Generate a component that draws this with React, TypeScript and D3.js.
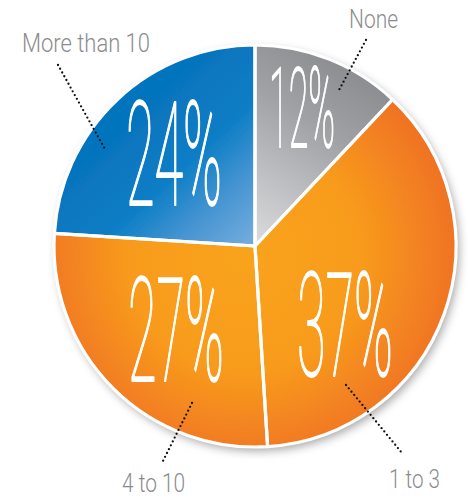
import React from "react";
import * as d3 from "d3";

const categories = ["None", "1 to 3", "4 to 10", "More than 10"];
const shares = [12, 37, 27, 24];
const percentLabels = ["12%", "37%", "27%", "24%"];

const W = 468;
const H = 498;
const CX = 255;
const CY = 246;
const R = 201;

// layout of annotations (not data)
const pctLayout = [
  { x: 269, y: 147, size: 111, w: 66 },
  { x: 297, y: 376, size: 145, w: 96 },
  { x: 128, y: 381, size: 145, w: 96 },
  { x: 126, y: 205, size: 145, w: 96 },
];
const nameLayout = [
  { x: 349, y: 28, w: 49 },
  { x: 389, y: 488, w: 51 },
  { x: 122, y: 492, w: 63 },
  { x: 22, y: 52, w: 128 },
];
const leaders = [
  [366, 40, 338, 92],
  [346, 385, 402, 453],
  [192, 403, 163, 461],
  [58, 65, 106, 151],
];
const fills = ["url(#gGray)", "url(#gOrange)", "url(#gOrange)", "url(#gBlue)"];

export default function App() {
  const pie = d3
    .pie<number>()
    .sort(null)
    .value((d) => d)
    .startAngle(0)
    .endAngle(2 * Math.PI);
  const arcs = pie(shares);
  const arc = d3.arc<d3.PieArcDatum<number>>().innerRadius(0).outerRadius(R);

  return (
    <svg
      width={W}
      height={H}
      style={{ position: "absolute", left: 0, top: 0, background: "#fff" }}
    >
      <defs>
        <filter id="shadow" x="-20%" y="-20%" width="140%" height="140%">
          <feDropShadow dx="3" dy="4" stdDeviation="5" floodColor="#000" floodOpacity="0.35" />
        </filter>
        <linearGradient id="gBlue" gradientUnits="userSpaceOnUse" x1={-115} y1={-135} x2={0} y2={-10}>
          <stop offset="0" stopColor="#0674bd" />
          <stop offset="0.4" stopColor="#0a7dc5" />
          <stop offset="0.72" stopColor="#4895d2" />
          <stop offset="1" stopColor="#70abdd" />
        </linearGradient>
        <linearGradient id="gGray" gradientUnits="userSpaceOnUse" x1={110} y1={-170} x2={5} y2={-10}>
          <stop offset="0" stopColor="#8c8d91" />
          <stop offset="0.35" stopColor="#a0a1a5" />
          <stop offset="1" stopColor="#d6d7d9" />
        </linearGradient>
        <radialGradient id="gOrange" gradientUnits="userSpaceOnUse" cx={-10} cy={10} r={R + 10}>
          <stop offset="0" stopColor="#f9a31b" />
          <stop offset="0.55" stopColor="#f89b1e" />
          <stop offset="1" stopColor="#f07322" />
        </radialGradient>
      </defs>
      <g transform={`translate(${CX},${CY})`} filter="url(#shadow)">
        {arcs.map((a, i) => (
          <path key={categories[i]} d={arc(a) || ""} fill={fills[i]} />
        ))}
      </g>
      <g transform={`translate(${CX},${CY})`}>
        {arcs.map((a, i) => (
          <path key={"s" + categories[i]} d={arc(a) || ""} fill="none" stroke="#fff" strokeWidth={3.2} strokeLinejoin="round" />
        ))}
      </g>
      {percentLabels.map((t, i) => (
        <text
          key={"p" + i}
          x={pctLayout[i].x}
          y={pctLayout[i].y}
          fontFamily="Roboto, 'DejaVu Sans', sans-serif"
          fontWeight={100}
          fontSize={pctLayout[i].size}
          fill="#fff"
          stroke="#fff"
          strokeWidth={2}
          strokeLinejoin="round"
          textLength={pctLayout[i].w}
          lengthAdjust="spacingAndGlyphs"
        >
          {t}
        </text>
      ))}
      {leaders.map((l, i) => (
        <line
          key={"l" + i}
          x1={l[0]}
          y1={l[1]}
          x2={l[2]}
          y2={l[3]}
          stroke="#111"
          strokeWidth={2.3}
          strokeDasharray="0 4.3"
          strokeLinecap="round"
        />
      ))}
      {categories.map((c, i) => (
        <text
          key={"n" + c}
          x={nameLayout[i].x}
          y={nameLayout[i].y}
          fontFamily="Roboto, 'DejaVu Sans', sans-serif"
          fontWeight={300}
          fontSize={25}
          fill="#8b8c8f"
          textLength={nameLayout[i].w}
          lengthAdjust="spacingAndGlyphs"
        >
          {c}
        </text>
      ))}
    </svg>
  );
}
